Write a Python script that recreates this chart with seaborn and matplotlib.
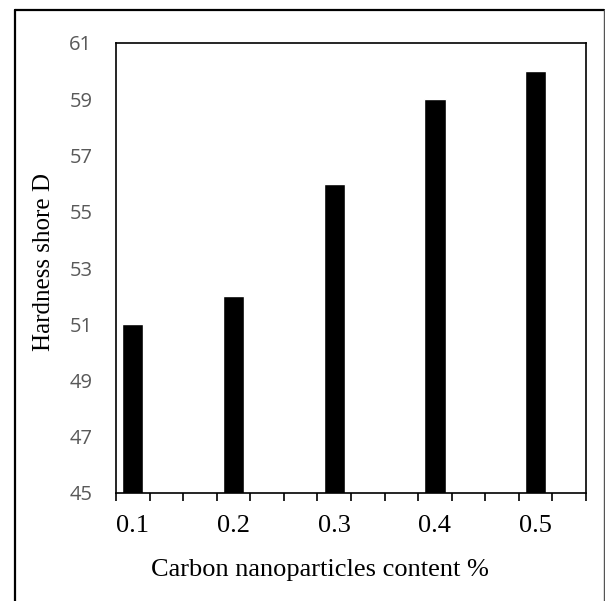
"""
Shore D hardness vs carbon nanoparticle content
"""

import matplotlib
matplotlib.use('Agg')
import matplotlib.pyplot as plt
from matplotlib.lines import Line2D
from matplotlib.ticker import FixedLocator
import numpy as np
import pandas as pd
import seaborn as sns

# data
content = ['0.1', '0.2', '0.3', '0.4', '0.5']
hardness = [51, 52, 56, 59, 60]
y_ticks = [45, 47, 49, 51, 53, 55, 57, 59, 61]

df = pd.DataFrame({'content': content, 'hardness': hardness})

sns.set_style('white')
plt.rcParams['font.family'] = ['Liberation Serif', 'DejaVu Serif']

fig = plt.figure(figsize=(6.05, 6.01), dpi=100)
ax = fig.add_axes([116 / 605, 1 - 493 / 601, 470 / 605, 450 / 601])

sns.barplot(data=df, x='content', y='hardness', order=content,
            color='black', width=0.21, errorbar=None, saturation=1, ax=ax)

# axis ranges and ticks
ax.set_ylim(45, 61)
ax.set_yticks(y_ticks)
ax.set_xlim(-1 / 6, 4.5)
ax.xaxis.set_minor_locator(FixedLocator(np.arange(-1 / 6, 4.55, 1 / 3)))

ax.tick_params(axis='x', which='major', length=0, pad=16, labelsize=19,
               labelcolor='black')
ax.tick_params(axis='x', which='minor', bottom=True, direction='out',
               length=5.5, width=1.2, color='black')
ax.tick_params(axis='y', which='major', length=0, pad=17, labelsize=14.5,
               labelcolor='#595959')
for lbl in ax.get_yticklabels():
    lbl.set_fontfamily('Open Sans')

for side in ['left', 'right', 'top', 'bottom']:
    ax.spines[side].set_visible(True)
    ax.spines[side].set_color('black')
    ax.spines[side].set_linewidth(1.2)

# axis titles
ax.set_xlabel('Carbon nanoparticles content %', fontsize=19, color='black')
ax.set_ylabel('Hardness shore D', fontsize=18, color='black')
ax.xaxis.label.set_va('center')
ax.yaxis.label.set_va('center')
ax.xaxis.set_label_coords(0.434, -0.172)
ax.yaxis.set_label_coords(-0.153, 0.513)

# outer frame around the chart area
fig.add_artist(Line2D([15 / 605, 15 / 605], [-0.05, 1 - 9.5 / 601],
                      transform=fig.transFigure, color='black', lw=1.6))
fig.add_artist(Line2D([15 / 605, 604 / 605], [1 - 9.5 / 601, 1 - 9.5 / 601],
                      transform=fig.transFigure, color='black', lw=1.6))
fig.add_artist(Line2D([604 / 605, 604 / 605], [-0.05, 1 - 9.5 / 601],
                      transform=fig.transFigure, color='#555555', lw=1.0))

fig.savefig('out.png', dpi=100)
